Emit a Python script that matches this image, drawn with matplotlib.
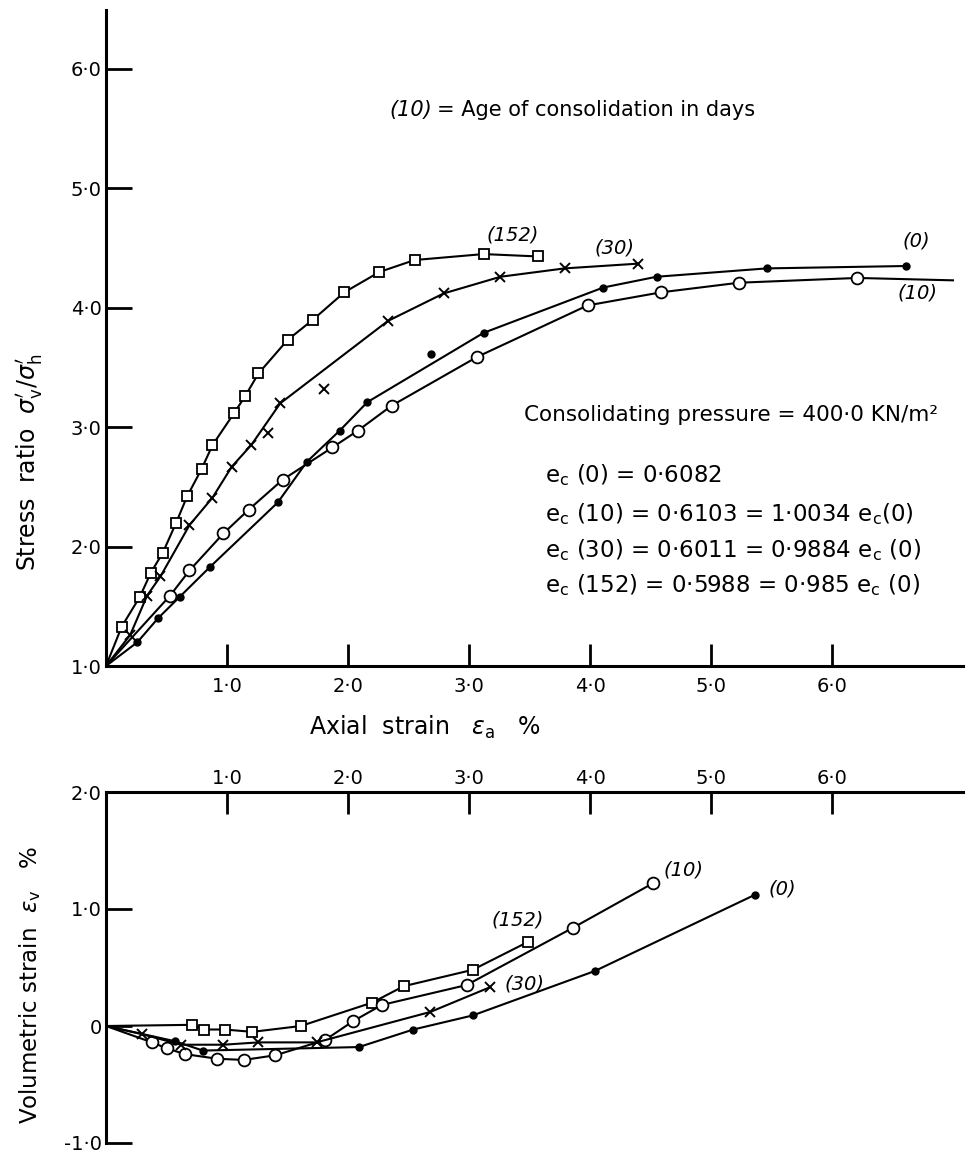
import matplotlib
matplotlib.use("Agg")
import matplotlib.pyplot as plt

plt.rcParams['font.family'] = ['DejaVu Sans']
plt.rcParams['mathtext.fontset'] = 'dejavusans'

# ---- top panel: stress ratio vs axial strain ----
s152_x = [0, 0.13, 0.28, 0.37, 0.47, 0.58, 0.67, 0.79, 0.88, 1.06, 1.15, 1.26, 1.50, 1.71, 1.97, 2.26, 2.55, 3.12, 3.57]
s152_y = [1.0, 1.33, 1.58, 1.78, 1.95, 2.20, 2.42, 2.65, 2.85, 3.12, 3.26, 3.45, 3.73, 3.90, 4.13, 4.30, 4.40, 4.45, 4.43]

s30_x = [0, 0.20, 0.34, 0.45, 0.69, 0.88, 1.04, 1.20, 1.44, 2.33, 2.79, 3.26, 3.79, 4.40]
s30_y = [1.0, 1.26, 1.59, 1.75, 2.18, 2.41, 2.67, 2.85, 3.20, 3.89, 4.12, 4.26, 4.33, 4.37]
s30_off_x = [1.34, 1.80]
s30_off_y = [2.95, 3.32]

s0_x = [0, 0.26, 0.43, 0.61, 0.86, 1.42, 1.66, 1.93, 2.16, 3.12, 4.11, 4.55, 5.46, 6.61]
s0_y = [1.0, 1.20, 1.40, 1.58, 1.83, 2.37, 2.71, 2.97, 3.21, 3.79, 4.17, 4.26, 4.33, 4.35]
s0_off_x = [2.69]
s0_off_y = [3.61]

s10_x = [0, 0.53, 0.69, 0.97, 1.18, 1.46, 1.87, 2.08, 2.36, 3.07, 3.98, 4.59, 5.23, 6.21, 7.0]
s10_y = [1.0, 1.59, 1.80, 2.11, 2.31, 2.56, 2.83, 2.97, 3.18, 3.59, 4.02, 4.13, 4.21, 4.25, 4.23]

# ---- bottom panel: volumetric strain vs axial strain ----
v152_x = [0, 0.71, 0.81, 0.98, 1.21, 1.61, 2.20, 2.46, 3.03, 3.49]
v152_y = [0, 0.01, -0.03, -0.03, -0.05, 0.0, 0.20, 0.34, 0.48, 0.72]

v10_x = [0, 0.38, 0.50, 0.65, 0.92, 1.14, 1.40, 1.81, 2.04, 2.28, 2.98, 3.86, 4.52]
v10_y = [0, -0.14, -0.19, -0.24, -0.28, -0.29, -0.25, -0.12, 0.04, 0.18, 0.35, 0.84, 1.22]

v0_x = [0, 0.57, 0.80, 2.09, 2.54, 3.03, 4.04, 5.36]
v0_y = [0, -0.13, -0.21, -0.18, -0.03, 0.09, 0.47, 1.12]

v30_x = [0, 0.30, 0.62, 0.97, 1.26, 1.74, 2.68, 3.17]
v30_y = [0, -0.07, -0.16, -0.16, -0.14, -0.14, 0.12, 0.33]

x_ticks = [1, 2, 3, 4, 5, 6]
x_labels = ['1·0', '2·0', '3·0', '4·0', '5·0', '6·0']
top_yticks = [1, 2, 3, 4, 5, 6]
top_ylabels = ['1·0', '2·0', '3·0', '4·0', '5·0', '6·0']
bot_yticks = [-1, 0, 1, 2]
bot_ylabels = ['-1·0', '0', '1·0', '2·0']

W, H = 967, 1157
fig = plt.figure(figsize=(W / 100, H / 100), dpi=100)

lw = 1.5
sq = dict(marker='s', ms=7, mfc='white', mec='black', mew=1.3)
circ = dict(marker='o', ms=8.5, mfc='white', mec='black', mew=1.3)
dot = dict(marker='o', ms=5, mfc='black', mec='black')
cross = dict(marker='x', ms=7, mec='black', mew=1.4)

# top axes
ax1 = fig.add_axes([106 / W, (H - 666) / H, 857 / W, 656 / H])
ax1.set_xlim(0, 857 / 121)
ax1.set_ylim(1.0, 1 + 656 / 119.4)
ax1.plot(s152_x, s152_y, color='black', lw=lw, markevery=slice(1, None), **sq)
ax1.plot(s30_x, s30_y, color='black', lw=lw, markevery=slice(1, None), **cross)
ax1.plot(s30_off_x, s30_off_y, ls='none', **cross)
ax1.plot(s0_x, s0_y, color='black', lw=lw, markevery=slice(1, None), **dot)
ax1.plot(s0_off_x, s0_off_y, ls='none', **dot)
ax1.plot(s10_x, s10_y, color='black', lw=lw, markevery=slice(1, len(s10_x) - 1), **circ)

for sp in ['top', 'right']:
    ax1.spines[sp].set_visible(False)
for sp in ['left', 'bottom']:
    ax1.spines[sp].set_linewidth(2.2)
ax1.set_xticks(x_ticks)
ax1.set_xticklabels(x_labels)
ax1.set_yticks(top_yticks)
ax1.set_yticklabels(top_ylabels)
ax1.tick_params(axis='x', direction='in', length=16, width=2, pad=8, labelsize=14)
ax1.tick_params(axis='y', direction='in', length=19, width=2, pad=3, labelsize=14)

ax1.text(3.36, 4.61, '(152)', style='italic', fontsize=14, ha='center', va='center')
ax1.text(4.20, 4.50, '(30)', style='italic', fontsize=14, ha='center', va='center')
ax1.text(6.70, 4.56, '(0)', style='italic', fontsize=14, ha='center', va='center')
ax1.text(6.71, 4.12, '(10)', style='italic', fontsize=14, ha='center', va='center')

# bottom axes
ax2 = fig.add_axes([106 / W, (H - 1143) / H, 857 / W, 351 / H])
ax2.set_xlim(0, 857 / 121)
ax2.set_ylim(-1, 2)
ax2.plot(v152_x, v152_y, color='black', lw=lw, markevery=slice(1, None), **sq)
ax2.plot(v10_x, v10_y, color='black', lw=lw, markevery=slice(1, None), **circ)
ax2.plot(v0_x, v0_y, color='black', lw=lw, markevery=slice(1, None), **dot)
ax2.plot(v30_x, v30_y, color='black', lw=lw, markevery=slice(1, None), **cross)

for sp in ['bottom', 'right']:
    ax2.spines[sp].set_visible(False)
for sp in ['left', 'top']:
    ax2.spines[sp].set_linewidth(2.2)
ax2.xaxis.tick_top()
ax2.set_xticks(x_ticks)
ax2.set_xticklabels(x_labels)
ax2.set_yticks(bot_yticks)
ax2.set_yticklabels(bot_ylabels)
ax2.tick_params(axis='x', direction='in', length=16, width=2, pad=3, labelsize=14)
ax2.tick_params(axis='y', direction='in', length=19, width=2, pad=3, labelsize=14)

ax2.text(3.40, 0.91, '(152)', style='italic', fontsize=14, ha='center', va='center')
ax2.text(3.46, 0.36, '(30)', style='italic', fontsize=14, ha='center', va='center')
ax2.text(4.77, 1.33, '(10)', style='italic', fontsize=14, ha='center', va='center')
ax2.text(5.59, 1.17, '(0)', style='italic', fontsize=14, ha='center', va='center')

# labels and notes
fig.text(425 / W, 1 - 727 / H, r'Axial  strain   $\epsilon_{\rm a}$   %', fontsize=17, ha='center', va='center')
fig.text(30 / W, 1 - 462 / H, r"Stress  ratio  $\sigma_{\rm v}'/\sigma_{\rm h}'$", fontsize=17,
         rotation=90, ha='center', va='center')
fig.text(30 / W, 1 - 985 / H, r'Volumetric strain  $\epsilon_{\rm v}$   %', fontsize=16.5,
         rotation=90, ha='center', va='center')

fig.text(389 / W, 1 - 110 / H, '(10)', style='italic', fontsize=15, ha='left', va='center')
fig.text(437 / W, 1 - 110 / H, '= Age of consolidation in days', fontsize=15, ha='left', va='center')
fig.text(524 / W, 1 - 415 / H, 'Consolidating pressure = 400·0 KN/m²', fontsize=15.5, ha='left', va='center')
rows = ['e$_{\\rm c}$ (0) = 0·6082',
        'e$_{\\rm c}$ (10) = 0·6103 = 1·0034 e$_{\\rm c}$(0)',
        'e$_{\\rm c}$ (30) = 0·6011 = 0·9884 e$_{\\rm c}$ (0)',
        'e$_{\\rm c}$ (152) = 0·5988 = 0·985 e$_{\\rm c}$ (0)']
for r, yy in zip(rows, [475, 514, 550, 585]):
    fig.text(545 / W, 1 - yy / H, r, fontsize=16.5, ha='left', va='center')

fig.savefig('out.png', dpi=100)
